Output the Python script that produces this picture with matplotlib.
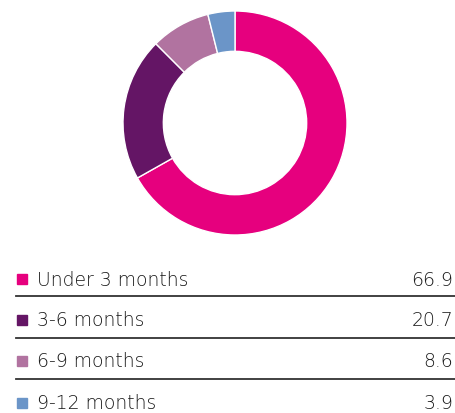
import matplotlib
matplotlib.use('Agg')
import matplotlib.pyplot as plt

labels = ['Under 3 months', '3-6 months', '6-9 months', '9-12 months']
values = [66.9, 20.7, 8.6, 3.9]
colors = ['#E6007E', '#641565', '#B173A0', '#6B95C8']

W, H = 455, 414
fig = plt.figure(figsize=(W / 100, H / 100), dpi=100)

# donut: centre (235, 124) px, radius 112 px
cx, cy, r = 235, 124, 112
ax = fig.add_axes([(cx - r) / W, (H - cy - r) / H, 2 * r / W, 2 * r / H])
ax.pie(values, colors=colors, startangle=90, counterclock=False, radius=1,
       wedgeprops=dict(width=0.36, edgecolor='white', linewidth=1))
ax.set_xlim(-1, 1)
ax.set_ylim(-1, 1)
ax.axis('off')

# legend table
rows_y = [280, 321, 362, 404]
lines_y = [297, 339, 380]
for y, lab, val, col in zip(rows_y, labels, values, colors):
    fy = 1 - y / H
    fig.patches.append(plt.Rectangle((17 / W, 1 - (y + 5) / H), 10 / W, 10 / H,
                                     color=col, transform=fig.transFigure))
    fig.text(37 / W, fy, lab, fontsize=13.5, color='#1a1a1a', va='center', ha='left',
             fontweight='light')
    fig.text(453 / W, fy, f'{val:.1f}', fontsize=13.5, color='#1a1a1a', va='center',
             ha='right', fontweight='light')
for y in lines_y:
    fig.add_artist(plt.Line2D([16 / W, 1], [1 - y / H] * 2, color='#333333', lw=1.3,
                              transform=fig.transFigure))

fig.savefig('out.png', dpi=100)
